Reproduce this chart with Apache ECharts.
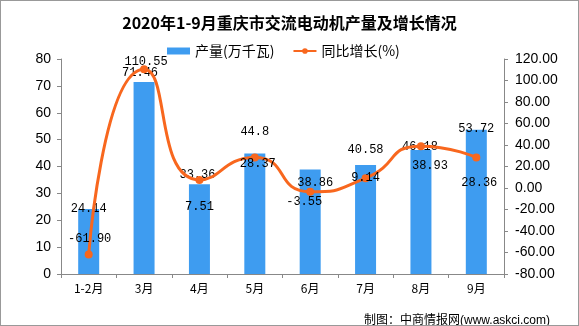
<!DOCTYPE html>
<html><head><meta charset="utf-8">
<script src="https://cdn.jsdelivr.net/npm/echarts@6/dist/echarts.min.js"></script>
<style>
html,body{margin:0;padding:0;background:#fff;}
#c{width:579px;height:326px;box-sizing:border-box;border:1px solid #999;}
</style></head>
<body><div id="c"></div>
<script>
const categories = ['1-2月','3月','4月','5月','6月','7月','8月','9月'];
const output = [24.14, 71.46, 33.36, 44.8, 38.86, 40.58, 46.18, 53.72];
const growth = [-61.90, 110.55, 7.51, 28.37, -3.55, 9.14, 38.93, 28.36];
const leftTicks = {min: 0, max: 80, interval: 10};
const rightTicks = {min: -80, max: 120, interval: 20};

// label offsets (styling only)
const barLabelOff = [[0,10.5],[-4,2],[-2,1.5],[0,-10.5],[5,24.4],[0,-4],[-1,8],[0,10]];
const lineLabelOff = [[1,-16],[2,-7],[0,27],[3,6],[-6,10],[0,0],[9,20],[3,25.5]];

const chart = echarts.init(document.getElementById('c'), null, {renderer:'canvas'});
const numFont = {fontFamily:'Liberation Mono, DejaVu Sans Mono, monospace', fontSize:12, color:'#000'};
chart.setOption({
  animation:false,
  title:[{
    text:'2020年1-9月重庆市交流电动机产量及增长情况',
    left:'center', top:9,
    textStyle:{fontFamily:'Noto Sans CJK SC', fontWeight:'bold', fontSize:16, color:'#000'}
  },{
    text:'制图：中商情报网(www.askci.com)',
    left:358, top:309,
    textStyle:{fontFamily:'Liberation Sans, Noto Sans CJK SC', fontWeight:'normal', fontSize:12, color:'#000'}
  }],
  legend:{
    top:38, left:161, itemGap:18, itemWidth:23, itemHeight:7,
    textStyle:{fontFamily:'Noto Sans CJK SC', fontSize:14, color:'#000'},
    data:[{name:'产量(万千瓦)', icon:'rect'},{name:'同比增长(%)'}]
  },
  grid:{left:60, right:74, top:58, bottom:51},
  xAxis:{
    type:'category', data:categories,
    axisLine:{lineStyle:{color:'#888'}},
    axisTick:{show:true, length:4, lineStyle:{color:'#888'}},
    axisLabel:{color:'#000', fontFamily:'Noto Sans CJK SC', fontSize:12, margin:8}
  },
  yAxis:[{
    type:'value', min:leftTicks.min, max:leftTicks.max, interval:leftTicks.interval,
    axisLine:{show:true, lineStyle:{color:'#888'}},
    axisTick:{show:true, length:4, lineStyle:{color:'#888'}},
    splitLine:{show:false},
    axisLabel:{color:'#000', fontFamily:'Liberation Sans, Arial', fontSize:14, margin:10}
  },{
    type:'value', min:rightTicks.min, max:rightTicks.max, interval:rightTicks.interval,
    axisLine:{show:true, lineStyle:{color:'#888'}},
    axisTick:{show:true, length:4, lineStyle:{color:'#888'}},
    splitLine:{show:false},
    axisLabel:{color:'#000', fontFamily:'Liberation Sans, Arial', fontSize:14, margin:11,
      formatter:v=>v.toFixed(2)}
  }],
  series:[{
    name:'产量(万千瓦)', type:'bar', barWidth:21,
    itemStyle:{color:'#3E9CF0'},
    data: output.map((v,i)=>({value:v, label:{offset:barLabelOff[i]}})),
    label:{show:true, position:'top', distance:5, ...numFont, formatter:p=>String(p.value)},
    z:2
  },{
    name:'同比增长(%)', type:'line', yAxisIndex:1, smooth:0.6,
    symbol:'circle', symbolSize:8,
    lineStyle:{color:'#F8671E', width:3},
    itemStyle:{color:'#F8671E'},
    data: growth.map((v,i)=>({value:v, label:{offset:lineLabelOff[i]}})),
    label:{show:true, position:'inside', ...numFont, formatter:p=>p.value.toFixed(2)},
    z:3
  }]
});
</script></body></html>
